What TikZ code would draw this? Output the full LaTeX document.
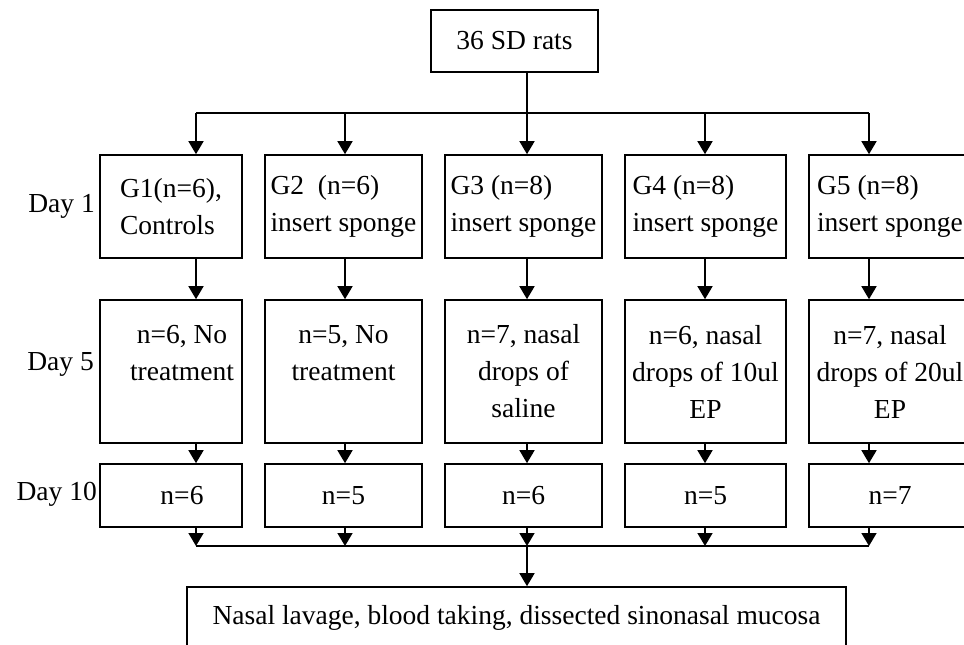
\documentclass[tikz,border=0pt]{standalone}
\usepackage{fontspec}
\setmainfont{Liberation Serif}
\usetikzlibrary{arrows.meta,calc}

\tikzset{
  box/.style={draw=black, line width=1.6pt, inner sep=0pt, align=center,
    font=\fontsize{27.5}{37}\selectfont},
  lin/.style={draw=black, line width=1.6pt},
  arr/.style={lin, -{Triangle[width=15pt,length=13pt]}},
  daylbl/.style={anchor=east, inner sep=0pt, font=\fontsize{27.5}{37}\selectfont}
}

\begin{document}
\begin{tikzpicture}[x=1pt,y=-1pt]
\useasboundingbox (0,0) rectangle (964,645);
\clip (0,0) rectangle (964,645);

\node[box, minimum width=167pt, minimum height=62pt] at (514.5,41)
  (rats) {36 SD rats};

% day labels
\node[daylbl] at (95,206) (day1) {Day 1};
\node[daylbl] at (94,364) (day5) {Day 5};
\node[daylbl] at (97,494) (day10) {Day 10};

% day 1
\node[box, align=left, minimum width=142pt, minimum height=103pt] at (171,206.5)
  (g1) {G1(n=6),\\Controls};
\node[box, align=left, minimum width=157pt, minimum height=103pt] at (343.5,206.5)
  (g2) {G2~~(n=6)\\insert sponge};
\node[box, align=left, minimum width=157pt, minimum height=103pt] at (523.5,206.5)
  (g3) {G3 (n=8)\\insert sponge};
\node[box, align=left, minimum width=161pt, minimum height=103pt] at (705.5,206.5)
  (g4) {G4 (n=8)\\insert sponge};
\node[box, align=left, minimum width=162pt, minimum height=103pt] at (890,206.5)
  (g5) {G5 (n=8)\\insert sponge};

% day 5
\node[box, minimum width=142pt, minimum height=143pt] at (171,371.5)
  (t1) {\hspace*{22pt}n=6, No\\\hspace*{22pt}treatment\\~};
\node[box, minimum width=157pt, minimum height=143pt] at (343.5,371.5)
  (t2) {n=5, No\\treatment\\~};
\node[box, minimum width=157pt, minimum height=143pt] at (523.5,371.5)
  (t3) {n=7, nasal\\drops of\\saline};
\node[box, minimum width=161pt, minimum height=143pt] at (705.5,371.5)
  (t4) {n=6, nasal\\drops of 10ul\\EP};
\node[box, minimum width=162pt, minimum height=143pt] at (890,371.5)
  (t5) {n=7, nasal\\drops of 20ul\\EP};

% day 10
\node[box, minimum width=142pt, minimum height=63pt] at (171,495.5)
  (n1) {\hspace*{22pt}n=6};
\node[box, minimum width=157pt, minimum height=63pt] at (343.5,495.5)
  (n2) {n=5};
\node[box, minimum width=157pt, minimum height=63pt] at (523.5,495.5)
  (n3) {n=6};
\node[box, minimum width=161pt, minimum height=63pt] at (705.5,495.5)
  (n4) {n=5};
\node[box, minimum width=162pt, minimum height=63pt] at (890,495.5)
  (n5) {n=7};

\node[box, minimum width=659pt, minimum height=61pt] at (516.5,617.5)
  (end) {Nasal lavage, blood taking, dissected sinonasal mucosa};

% branch points
\coordinate (b1) at (196,113);
\coordinate (b2) at (345,113);
\coordinate (b3) at (527,113);
\coordinate (b4) at (705,113);
\coordinate (b5) at (869,113);
\coordinate (m1) at (196,546);
\coordinate (m3) at (527,546);
\coordinate (m5) at (869,546);

\draw[lin] (b3 |- rats.south) -- (b3);
\draw[lin] (b1) -- (b5);
\draw[arr] (b1) -- (b1 |- g1.north);
\draw[arr] (b2) -- (b2 |- g2.north);
\draw[arr] (b3) -- (b3 |- g3.north);
\draw[arr] (b4) -- (b4 |- g4.north);
\draw[arr] (b5) -- (b5 |- g5.north);

\draw[arr] (b1 |- g1.south) -- (b1 |- t1.north);
\draw[arr] (b2 |- g2.south) -- (b2 |- t2.north);
\draw[arr] (b3 |- g3.south) -- (b3 |- t3.north);
\draw[arr] (b4 |- g4.south) -- (b4 |- t4.north);
\draw[arr] (b5 |- g5.south) -- (b5 |- t5.north);

\draw[arr] (b1 |- t1.south) -- (b1 |- n1.north);
\draw[arr] (b2 |- t2.south) -- (b2 |- n2.north);
\draw[arr] (b3 |- t3.south) -- (b3 |- n3.north);
\draw[arr] (b4 |- t4.south) -- (b4 |- n4.north);
\draw[arr] (b5 |- t5.south) -- (b5 |- n5.north);

\draw[arr] (b1 |- n1.south) -- (m1);
\draw[arr] (b2 |- n2.south) -- (b2 |- m1);
\draw[arr] (b3 |- n3.south) -- (m3);
\draw[arr] (b4 |- n4.south) -- (b4 |- m1);
\draw[arr] (b5 |- n5.south) -- (m5);
\draw[lin] (m1) -- (m5);
\draw[arr] (m3) -- (m3 |- end.north);

\end{tikzpicture}
\end{document}
